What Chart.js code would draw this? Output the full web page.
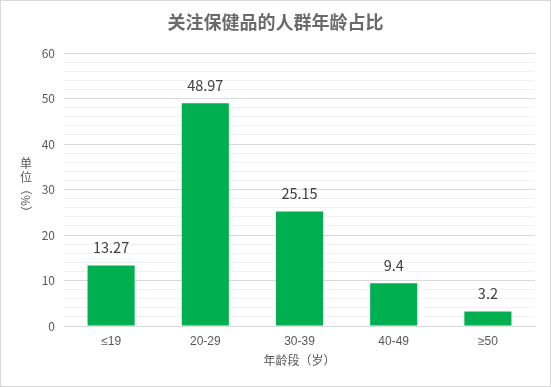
<!DOCTYPE html>
<html>
<head>
<meta charset="utf-8">
<script src="https://cdn.jsdelivr.net/npm/chart.js@4/dist/chart.umd.min.js"></script>
<style>
  html, body { margin: 0; padding: 0; background: #fff; }
  #wrap { width: 551px; height: 387px; position: relative; }
</style>
</head>
<body>
<div id="wrap"><canvas id="c" width="551" height="387"></canvas></div>
<script>
const chartTitle = '关注保健品的人群年龄占比';
const categories = ['≤19', '20-29', '30-39', '40-49', '≥50'];
const values = [13.27, 48.97, 25.15, 9.4, 3.2];
const xAxisTitle = '年龄段（岁）';
const yAxisTitleUpright = ['单', '位'];
const yAxisTitleRotated = '（%）';
const yMin = 0, yMax = 60, yMajorStep = 10, yMinorStep = 2;

const FONT = '"Noto Sans CJK SC", "Microsoft YaHei", sans-serif';
const TICKFONT = '"Liberation Sans", "Noto Sans CJK SC", sans-serif';

const decor = {
  id: 'decor',
  afterDraw(chart) {
    const ctx = chart.ctx;
    ctx.save();
    // outer border
    ctx.strokeStyle = '#d9d9d9';
    ctx.lineWidth = 1;
    ctx.strokeRect(0.5, 0.5, chart.width - 1, chart.height - 1);
    // title
    ctx.fillStyle = '#6a6a6a';
    ctx.font = 'bold 18px ' + FONT;
    ctx.textAlign = 'center';
    ctx.textBaseline = 'middle';
    ctx.fillText(chartTitle, chart.width / 2, 22.5);
    // data labels
    ctx.fillStyle = '#404040';
    ctx.font = '14.5px ' + FONT;
    ctx.textBaseline = 'alphabetic';
    const meta = chart.getDatasetMeta(0);
    meta.data.forEach((bar, i) => {
      ctx.fillText(String(values[i]), bar.x, bar.y - 12.5);
    });
    // y axis title: stacked
    ctx.fillStyle = '#595959';
    ctx.font = '12px ' + FONT;
    ctx.textAlign = 'center';
    ctx.textBaseline = 'middle';
    const cx = 26;
    let y = 163;
    yAxisTitleUpright.forEach(ch => { ctx.fillText(ch, cx, y); y += 14; });
    ctx.translate(cx, y - 8);
    ctx.rotate(Math.PI / 2);
    ctx.textAlign = 'left';
    ctx.fillText(yAxisTitleRotated, 0, 0);
    ctx.restore();
  }
};

new Chart(document.getElementById('c'), {
  type: 'bar',
  data: {
    labels: categories,
    datasets: [{
      data: values,
      backgroundColor: '#00B050',
      borderWidth: 0,
      barPercentage: 0.5,
      categoryPercentage: 1.0
    }]
  },
  options: {
    responsive: false,
    animation: false,
    devicePixelRatio: 1,
    layout: { padding: { top: 53, right: 16, bottom: 19, left: 0 } },
    plugins: { legend: { display: false }, title: { display: false }, tooltip: { enabled: false } },
    scales: {
      x: {
        grid: { display: false, drawTicks: false },
        border: { display: true, color: '#d9d9d9', width: 1 },
        ticks: { color: '#595959', font: { family: TICKFONT, size: 12 }, padding: 8 },
        title: { display: true, text: xAxisTitle, color: '#595959', font: { family: FONT, size: 12 }, padding: { top: 4, bottom: 0 } },
        afterFit(scale) { scale.height = 42; }
      },
      y: {
        min: yMin, max: yMax,
        grid: {
          drawTicks: false,
          color: ctx => (ctx.tick && ctx.tick.value % yMajorStep === 0) ? '#d9d9d9' : '#f2f2f2',
          lineWidth: 1
        },
        border: { display: false },
        ticks: {
          stepSize: yMinorStep,
          color: '#595959',
          font: { family: FONT, size: 12 },
          padding: 9,
          autoSkip: false,
          callback: v => (v % yMajorStep === 0 ? v : '')
        },
        afterFit(scale) { scale.width = 64; }
      }
    }
  },
  plugins: [decor]
});
</script>
</body>
</html>
